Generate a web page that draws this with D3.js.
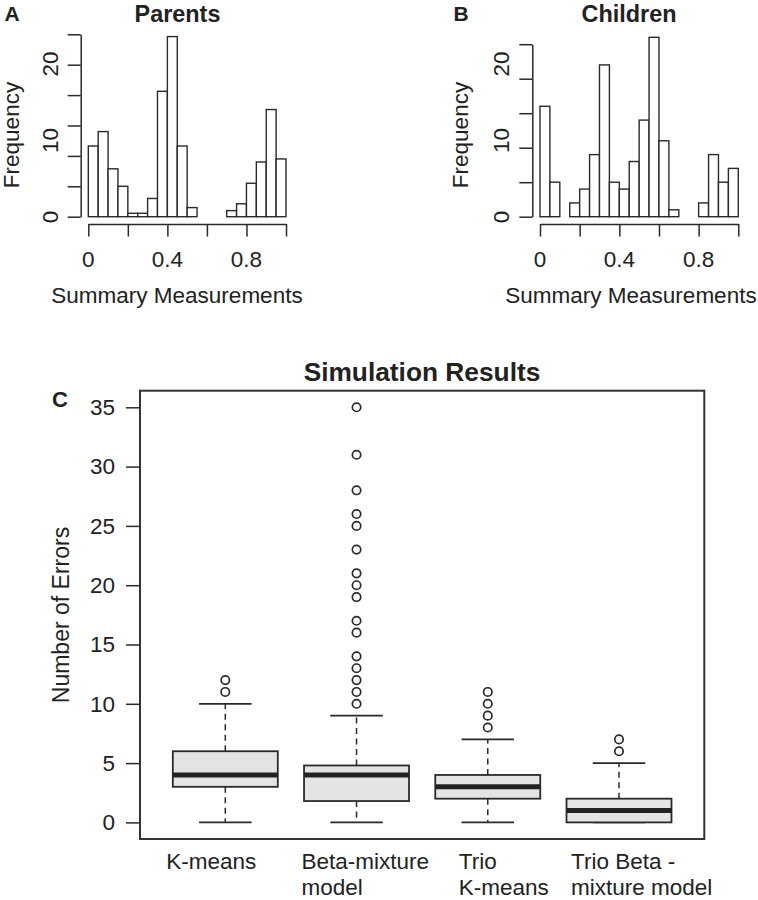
<!DOCTYPE html>
<html>
<head>
<meta charset="utf-8">
<script src="https://cdn.jsdelivr.net/npm/d3@7"></script>
<style>
  body { margin: 0; background: #fff; }
  text { font-family: "Liberation Sans", Arial, Helvetica, sans-serif; fill: #222; }
</style>
</head>
<body>
<svg id="chart" width="758" height="900"></svg>
<script>
// ---------------- DATA ----------------
const binEdges = [0, 0.05, 0.10, 0.15, 0.20, 0.25, 0.30, 0.35, 0.40, 0.45, 0.50,
                  0.55, 0.60, 0.65, 0.70, 0.75, 0.80, 0.85, 0.90, 0.95, 1.00];
const parentsCounts  = [9.3, 11.2, 6.3, 4.0, 0.45, 0.45, 2.4, 16.5, 23.7, 9.3,
                        1.2, 0, 0, 0, 0.8, 1.7, 4.4, 7.2, 14.1, 7.6];
const childrenCounts = [16, 5, 0, 2, 4, 9, 22, 5, 4, 8,
                        14, 26, 11, 1, 0, 0, 2, 9, 5, 7];
const histXTicks = [0, 0.2, 0.4, 0.6, 0.8, 1.0];
const histXLabels = [0, 0.4, 0.8];
const parentsYTicks = [0, 4, 8, 12, 16, 20, 24];
const childrenYTicks = [0, 5, 10, 15, 20, 25];
const histYLabels = [0, 10, 20];

const categories = [["K-means"], ["Beta-mixture", "model"], ["Trio", "K-means"], ["Trio Beta -", "mixture model"]];
const whiskerLow  = [0, 0, 0, 0];
const q1          = [3, 1.8, 2, 0];
const medians     = [4, 4, 3, 1];
const q3          = [6, 4.8, 4, 2];
const whiskerHigh = [10, 9, 7, 5];
const outliers = [
  [11, 12],
  [10, 11, 12, 13, 14, 16, 17, 19, 20, 21, 23, 25, 26, 28, 31, 35],
  [8, 9, 10, 11],
  [6, 7]
];
const boxYTicks = [0, 5, 10, 15, 20, 25, 30, 35];

// ---------------- DRAWING ----------------
const svg = d3.select("#chart");
const ink = "#2a2a2a";
const FS = 22.5;

// shared position scale for the y tick labels of both histograms (as placed in the figure)
const histLabelY = d3.scaleLinear().domain([0, 20]).range([217, 64]);

function drawHist(opt) {
  const g = svg.append("g");
  const x = d3.scaleLinear().domain([0, 1]).range(opt.xRange);
  const y = d3.scaleLinear().domain(opt.yDomain).range([216.7, opt.yTop]);
  const bins = opt.counts.map((c, i) => ({x0: binEdges[i], x1: binEdges[i + 1], c}));

  g.selectAll("rect.bar").data(bins).join("rect")
    .attr("class", "bar")
    .attr("x", d => x(d.x0))
    .attr("width", d => x(d.x1) - x(d.x0))
    .attr("y", d => y(d.c))
    .attr("height", d => y(0) - y(d.c))
    .attr("fill", "#fff")
    .attr("stroke", ink)
    .attr("stroke-width", 1.4);

  // y axis
  const ya = g.append("g")
    .attr("transform", `translate(${opt.yAxisX},0)`)
    .call(d3.axisLeft(y).tickValues(opt.yTicks).tickSize(13).tickSizeOuter(0).tickFormat(() => ""));
  ya.selectAll("path,line").attr("stroke", ink).attr("stroke-width", 1.5);

  g.selectAll("text.ylab").data(histYLabels).join("text")
    .attr("class", "ylab")
    .attr("transform", d => `translate(${opt.yLabX},${histLabelY(d)}) rotate(-90)`)
    .attr("text-anchor", "middle")
    .attr("font-size", FS)
    .text(d => d);

  // x axis
  const xa = g.append("g")
    .attr("transform", `translate(0,224)`)
    .call(d3.axisBottom(x).tickValues(histXTicks).tickSize(12.5).tickSizeOuter(0).tickFormat(() => ""));
  xa.selectAll("path,line").attr("stroke", ink).attr("stroke-width", 1.5);

  g.selectAll("text.xlab").data(histXLabels).join("text")
    .attr("class", "xlab")
    .attr("x", d => x(d))
    .attr("y", 266.5)
    .attr("text-anchor", "middle")
    .attr("font-size", FS)
    .text(d => d);

  g.append("text")
    .attr("x", opt.xTitleX).attr("y", 302.5)
    .attr("text-anchor", "middle").attr("font-size", FS)
    .text("Summary Measurements");

  g.append("text")
    .attr("transform", `translate(${opt.freqX},135) rotate(-90)`)
    .attr("text-anchor", "middle").attr("font-size", FS)
    .text("Frequency");

  g.append("text")
    .attr("x", opt.titleX).attr("y", 21.5)
    .attr("text-anchor", "middle").attr("font-size", 23.4).attr("font-weight", "bold")
    .text(opt.title);

  g.append("text")
    .attr("x", opt.letterX).attr("y", 20.5)
    .attr("font-size", 21).attr("font-weight", "bold")
    .text(opt.letter);
}

drawHist({
  counts: parentsCounts, xRange: [88.3, 286], yDomain: [0, 24], yTop: 34.3,
  yTicks: parentsYTicks, yAxisX: 80.7, yLabX: 58.3, xTitleX: 177, freqX: 19,
  titleX: 177.5, title: "Parents", letterX: 4.5, letter: "A"
});
drawHist({
  counts: childrenCounts, xRange: [540, 738.3], yDomain: [0, 25], yTop: 44.2,
  yTicks: childrenYTicks, yAxisX: 532.3, yLabX: 508.5, xTitleX: 631, freqX: 468,
  titleX: 629, title: "Children", letterX: 453.5, letter: "B"
});

// ---------------- BOXPLOT ----------------
const bx = d3.scaleLinear().domain([0.35, 4.65]).range([140, 704.3]);
const by = d3.scaleLinear().domain([-1.4, 36.4]).range([839, 390.7]);
const boxHalf = 0.4, capHalf = 0.2;
const gb = svg.append("g");
const boxes = categories.map((c, i) => ({
  i, pos: i + 1, lo: whiskerLow[i], q1: q1[i], med: medians[i], q3: q3[i], hi: whiskerHigh[i], out: outliers[i]
}));

const bg = gb.selectAll("g.box").data(boxes).join("g").attr("class", "box");
// whiskers (dashed)
bg.append("line")
  .attr("x1", d => bx(d.pos)).attr("x2", d => bx(d.pos))
  .attr("y1", d => by(d.q3)).attr("y2", d => by(d.hi))
  .attr("stroke", ink).attr("stroke-width", 1.5).attr("stroke-dasharray", "6,4.5");
bg.append("line")
  .attr("x1", d => bx(d.pos)).attr("x2", d => bx(d.pos))
  .attr("y1", d => by(d.q1)).attr("y2", d => by(d.lo))
  .attr("stroke", ink).attr("stroke-width", 1.5).attr("stroke-dasharray", "6,4.5");
// caps
bg.append("line")
  .attr("x1", d => bx(d.pos - capHalf)).attr("x2", d => bx(d.pos + capHalf))
  .attr("y1", d => by(d.hi)).attr("y2", d => by(d.hi))
  .attr("stroke", ink).attr("stroke-width", 1.8);
bg.append("line")
  .attr("x1", d => bx(d.pos - capHalf)).attr("x2", d => bx(d.pos + capHalf))
  .attr("y1", d => by(d.lo)).attr("y2", d => by(d.lo))
  .attr("stroke", ink).attr("stroke-width", 1.8);
// box
bg.append("rect")
  .attr("x", d => bx(d.pos - boxHalf))
  .attr("width", d => bx(d.pos + boxHalf) - bx(d.pos - boxHalf))
  .attr("y", d => by(d.q3))
  .attr("height", d => by(d.q1) - by(d.q3))
  .attr("fill", "#e4e4e4").attr("stroke", ink).attr("stroke-width", 1.8);
// median
bg.append("line")
  .attr("x1", d => bx(d.pos - boxHalf)).attr("x2", d => bx(d.pos + boxHalf))
  .attr("y1", d => by(d.med)).attr("y2", d => by(d.med))
  .attr("stroke", "#222").attr("stroke-width", 5);
// outliers
bg.each(function(d) {
  d3.select(this).selectAll("circle").data(d.out).join("circle")
    .attr("cx", bx(d.pos)).attr("cy", v => by(v)).attr("r", 4.2)
    .attr("fill", "none").attr("stroke", ink).attr("stroke-width", 1.7);
});

// frame
gb.append("rect")
  .attr("x", bx(0.35)).attr("y", by(36.4))
  .attr("width", bx(4.65) - bx(0.35)).attr("height", by(-1.4) - by(36.4))
  .attr("fill", "none").attr("stroke", "#333").attr("stroke-width", 2);

// y axis
const bya = gb.append("g")
  .attr("transform", `translate(${bx(0.35)},0)`)
  .call(d3.axisLeft(by).tickValues(boxYTicks).tickSize(14).tickPadding(11));
bya.select(".domain").remove();
bya.selectAll("line").attr("stroke", ink).attr("stroke-width", 1.5);
bya.selectAll("text").attr("font-size", FS).attr("font-family", null).attr("fill", "#222");

gb.append("text")
  .attr("transform", `translate(69,615) rotate(-90)`)
  .attr("text-anchor", "middle").attr("font-size", 23)
  .text("Number of Errors");

// category labels (left-aligned lines)
const labelDx = [-59, -55, -29, -48];
const lg = gb.selectAll("text.cat").data(boxes).join("text")
  .attr("class", "cat")
  .attr("font-size", FS);
lg.each(function(d) {
  d3.select(this).selectAll("tspan").data(categories[d.i]).join("tspan")
    .attr("x", bx(d.pos) + labelDx[d.i])
    .attr("y", (s, k) => 869 + k * 26)
    .text(s => s);
});

gb.append("text")
  .attr("x", 422).attr("y", 381)
  .attr("text-anchor", "middle").attr("font-size", 26.3).attr("font-weight", "bold")
  .text("Simulation Results");

gb.append("text")
  .attr("x", 52).attr("y", 406.5)
  .attr("font-size", 22).attr("font-weight", "bold")
  .text("C");
</script>
</body>
</html>
